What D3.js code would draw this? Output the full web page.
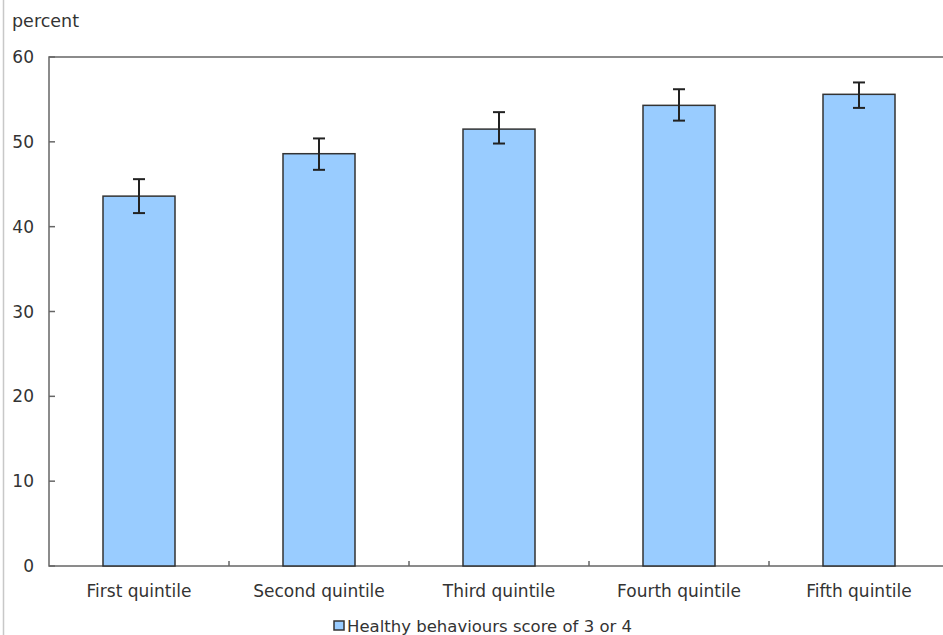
<!DOCTYPE html>
<html><head><meta charset="utf-8">
<script src="https://cdn.jsdelivr.net/npm/d3@7"></script>
<style>body{margin:0;background:#fff;overflow:hidden}svg{display:block}text{font-family:"DejaVu Sans",Verdana,sans-serif;fill:#333}</style>
</head><body>
<svg id="c" width="943" height="635"></svg>
<script>
const categories = ["First quintile","Second quintile","Third quintile","Fourth quintile","Fifth quintile"];
const values = [43.6, 48.6, 51.5, 54.3, 55.6];
const errLow = [41.6, 46.7, 49.8, 52.5, 54.0];
const errHigh = [45.6, 50.4, 53.5, 56.2, 57.0];
const yTicks = [0,10,20,30,40,50,60];
const seriesName = "Healthy behaviours score of 3 or 4";
const yTitle = "percent";

const svg = d3.select("#c");
const m = {left:49, top:57, bottom:566, right:949};
const x = d3.scaleBand().domain(categories).range([m.left, m.right]).paddingInner(0).paddingOuter(0);
const y = d3.scaleLinear().domain([0,60]).range([m.bottom, m.top]);
const bw = x.bandwidth()*0.4;

// left page border
svg.append("line").attr("x1",3.5).attr("x2",3.5).attr("y1",0).attr("y2",635).attr("stroke","#c8c8c8").attr("stroke-width",1.5);

// frame
svg.append("rect").attr("x",m.left).attr("y",m.top).attr("width",m.right-m.left).attr("height",m.bottom-m.top)
  .attr("fill","none").attr("stroke","#666").attr("stroke-width",1.5);

// y ticks (inward)
svg.selectAll(".yt").data(yTicks).enter().append("line")
  .attr("x1",m.left).attr("x2",m.left+6).attr("y1",d=>y(d)).attr("y2",d=>y(d)).attr("stroke","#666").attr("stroke-width",1.5);
svg.selectAll(".yl").data(yTicks).enter().append("text")
  .attr("x",34).attr("y",d=>y(d)+6).attr("text-anchor","end").attr("font-size",17).text(d=>d);

// x ticks at band boundaries (inward)
const bounds = categories.slice(1).map(c=>x(c));
svg.selectAll(".xt").data(bounds).enter().append("line")
  .attr("x1",d=>d).attr("x2",d=>d).attr("y1",m.bottom).attr("y2",m.bottom-5).attr("stroke","#666").attr("stroke-width",1.5);

// bars
svg.selectAll(".bar").data(categories).enter().append("rect")
  .attr("x",(d)=>x(d)+x.bandwidth()/2-bw/2).attr("width",bw)
  .attr("y",(d,i)=>y(values[i])).attr("height",(d,i)=>y(0)-y(values[i]))
  .attr("fill","#99ccff").attr("stroke","#333").attr("stroke-width",1.5);

// error bars
categories.forEach((c,i)=>{
  const cx = x(c)+x.bandwidth()/2;
  const g = svg.append("g").attr("stroke","#222").attr("stroke-width",2);
  g.append("line").attr("x1",cx).attr("x2",cx).attr("y1",y(errLow[i])).attr("y2",y(errHigh[i]));
  g.append("line").attr("x1",cx-6).attr("x2",cx+6).attr("y1",y(errLow[i])).attr("y2",y(errLow[i]));
  g.append("line").attr("x1",cx-6).attr("x2",cx+6).attr("y1",y(errHigh[i])).attr("y2",y(errHigh[i]));
});

// x labels
svg.selectAll(".xl").data(categories).enter().append("text")
  .attr("x",d=>x(d)+x.bandwidth()/2).attr("y",597).attr("text-anchor","middle").attr("font-size",17).text(d=>d);

// y title
svg.append("text").attr("x",12).attr("y",27).attr("font-size",17.5).text(yTitle);

// legend
svg.append("rect").attr("x",334).attr("y",621).attr("width",10).attr("height",9).attr("fill","#99ccff").attr("stroke","#333").attr("stroke-width",1.5);
svg.append("text").attr("x",347).attr("y",632).attr("font-size",16.5).text(seriesName);
</script>
</body></html>
